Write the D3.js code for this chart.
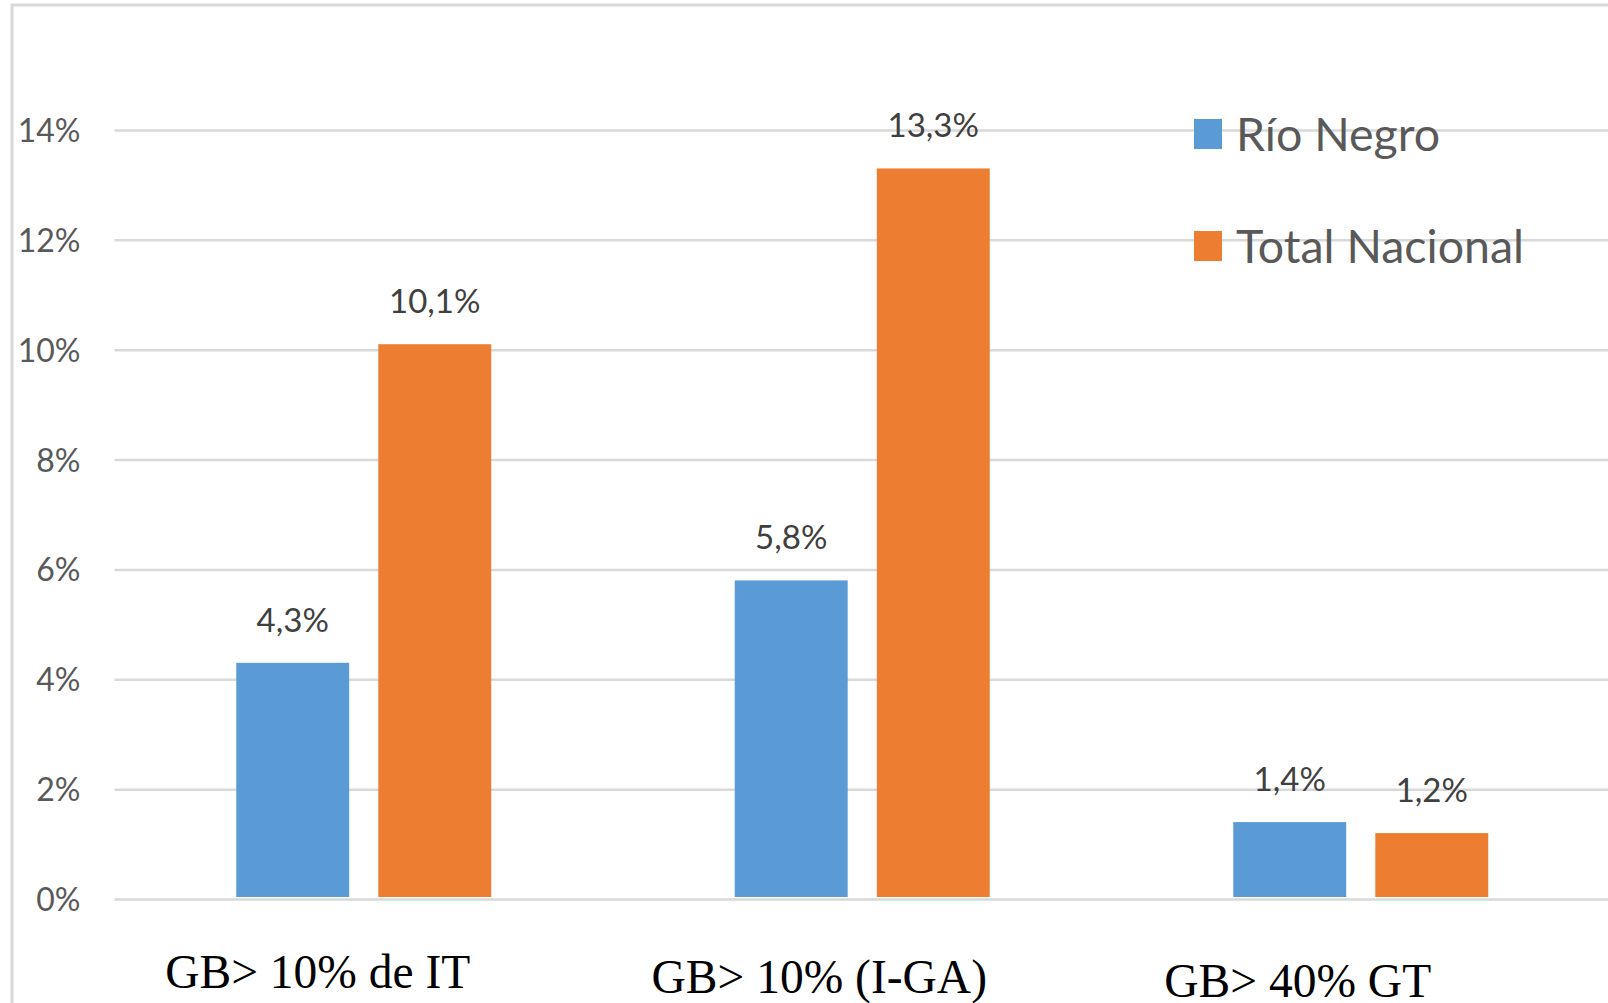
<!DOCTYPE html>
<html>
<head>
<meta charset="utf-8">
<script src="https://cdn.jsdelivr.net/npm/d3@7"></script>
<style>
  body { margin: 0; background: #fff; }
  svg { display: block; }
</style>
</head>
<body>
<svg id="chart" width="1608" height="1003"></svg>
<script>
// ---- data ----
const categories = ["GB> 10% de IT", "GB> 10% (I-GA)", "GB> 40% GT"];
const seriesNames = ["Río Negro", "Total Nacional"];
const rioNegro = [4.3, 5.8, 1.4];
const totalNacional = [10.1, 13.3, 1.2];
const yTicks = [0, 2, 4, 6, 8, 10, 12, 14];
const seriesColors = ["#5b9bd5", "#ed7d31"];

// ---- layout ----
const W = 1608, H = 1003;
const plotLeft = 114.5, plotRight = 1610, plotTop = 130, plotBottom = 899;
const catLabelShift = [-46, -43, -63];   // category labels sit a little left of their group
const catLabelBaseline = [988, 993, 997];
const uiFont = "Lato, 'Open Sans', sans-serif";

const svg = d3.select("#chart");

// outer frame (top and left edges visible)
svg.append("path")
  .attr("d", `M12,${H} L12,5 L${W},5`)
  .attr("fill", "none")
  .attr("stroke", "#d9d9d9")
  .attr("stroke-width", 3);

const y = d3.scaleLinear().domain([0, 14]).range([plotBottom, plotTop]);
const x0 = d3.scaleBand().domain(categories).range([plotLeft, plotRight]).padding(0);
const x1 = d3.scaleBand().domain(seriesNames).range([-127.5, 127.5]).paddingInner(0.205).paddingOuter(0);

// gridlines + y tick labels
const yAxis = d3.axisLeft(y)
  .tickValues(yTicks)
  .tickSize(-(W - plotLeft))
  .tickPadding(34)
  .tickFormat(d => d + "%");

const gy = svg.append("g")
  .attr("transform", `translate(${plotLeft},0)`)
  .call(yAxis);
gy.select(".domain").remove();
gy.selectAll(".tick line")
  .attr("stroke", "#d9d9d9")
  .attr("stroke-width", 2.5);
gy.selectAll(".tick text")
  .attr("fill", "#595959")
  .attr("font-family", uiFont)
  .attr("font-size", 32)
  .attr("dy", "0.36em");

// bars
const rows = categories.map((c, i) => ({
  cat: c,
  values: [
    { series: seriesNames[0], value: rioNegro[i], color: seriesColors[0] },
    { series: seriesNames[1], value: totalNacional[i], color: seriesColors[1] }
  ]
}));

const groups = svg.append("g").selectAll("g")
  .data(rows)
  .join("g")
  .attr("transform", d => `translate(${x0(d.cat) + x0.bandwidth() / 2},0)`);

groups.selectAll("rect")
  .data(d => d.values)
  .join("rect")
  .attr("x", d => x1(d.series))
  .attr("width", x1.bandwidth())
  .attr("y", d => y(d.value))
  .attr("height", d => plotBottom - 2 - y(d.value))
  .attr("fill", d => d.color);

// value labels
groups.selectAll("text.val")
  .data(d => d.values)
  .join("text")
  .attr("class", "val")
  .attr("x", d => x1(d.series) + x1.bandwidth() / 2)
  .attr("y", d => y(d.value) - 31)
  .attr("text-anchor", "middle")
  .attr("fill", "#404040")
  .attr("font-family", uiFont)
  .attr("font-size", 33)
  .text(d => d.value.toFixed(1).replace(".", ",") + "%");

// category labels
svg.append("g").selectAll("text")
  .data(categories)
  .join("text")
  .attr("x", (d, i) => x0(d) + x0.bandwidth() / 2 + catLabelShift[i])
  .attr("y", (d, i) => catLabelBaseline[i])
  .attr("text-anchor", "middle")
  .attr("fill", "#000")
  .attr("font-family", "'Liberation Serif', 'Times New Roman', serif")
  .attr("font-size", 47.5)
  .text(d => d);

// legend
const legend = svg.append("g").selectAll("g")
  .data(seriesNames)
  .join("g")
  .attr("transform", (d, i) => `translate(1194,${134 + i * 112})`);
legend.append("rect")
  .attr("x", 0).attr("y", -15)
  .attr("width", 28).attr("height", 30)
  .attr("fill", (d, i) => seriesColors[i]);
legend.append("text")
  .attr("x", 42).attr("y", 0)
  .attr("dy", "0.36em")
  .attr("fill", "#595959")
  .attr("font-family", uiFont)
  .attr("font-size", 46.5)
  .text(d => d);
</script>
</body>
</html>
